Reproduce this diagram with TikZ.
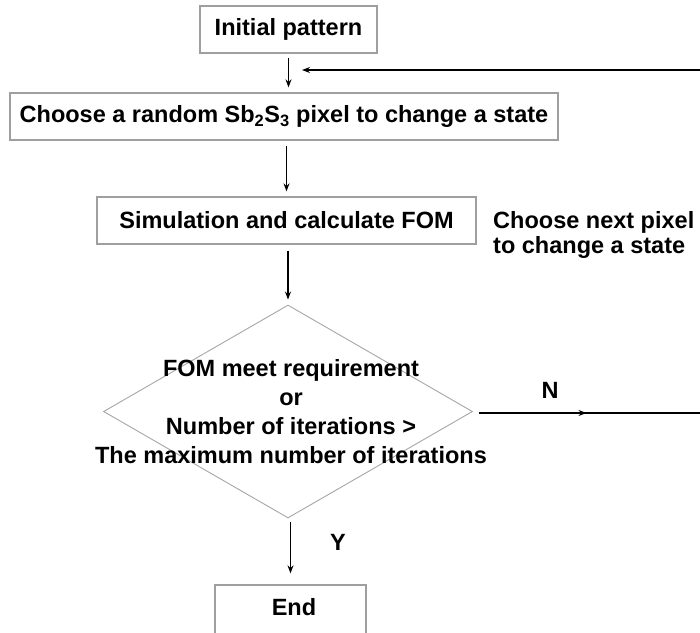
\documentclass[tikz,border=0pt]{standalone}
\usepackage{fontspec}
\setmainfont{Liberation Sans}
\usetikzlibrary{shapes.geometric,arrows.meta,decorations.markings}
\begin{document}
\begin{tikzpicture}[x=1pt,y=-1pt,
  txt/.style={font=\fontsize{23.5}{29}\selectfont\bfseries, text=black},
  box/.style={txt, draw=gray!75, line width=1.3pt, minimum height=47pt, inner sep=0pt},
  arr/.style={-{Stealth[length=8pt,width=6pt]}, line width=1.2pt},
  lbl/.style={txt, inner sep=0pt}]
\useasboundingbox (0,0) rectangle (700,632);
\clip (0,0) rectangle (700,632);
% boxes
\node[box, minimum width=177pt] (init) at (288.5,29.5) {Initial pattern};
\node[box, minimum width=548pt] (choose) at (284,116.5) {Choose a random Sb\textsubscript{2}S\textsubscript{3} pixel to change a state};
\node[box, minimum width=379pt] (sim) at (286.5,220.5) {Simulation and calculate FOM};
\node[draw=gray!70, line width=0.9pt, diamond, minimum width=369pt, minimum height=213pt, inner sep=0pt] (dec) at (288,411.5) {};
\node[lbl, align=center] (dectext) at (291,411.5) {FOM meet requirement\\or\\Number of iterations >\\The maximum number of iterations};
\node[box, minimum width=151pt, minimum height=50pt] (endb) at (290.5,610) {};
\node[lbl] (endt) at (294,607) {End};
% side texts
\node[lbl, align=left, anchor=west, font=\fontsize{23.5}{25}\selectfont\bfseries] (next) at (493,234.5) {Choose next pixel\\to change a state};
\node[lbl] (N) at (550,390) {N};
\node[lbl] (Y) at (338,542) {Y};
% coordinates for loop
\coordinate (loopR) at (700,70);
\coordinate (loopIn) at (302,70);
\coordinate (Nend) at (700,413);
% connectors
\draw[arr, shorten <=4pt, shorten >=5pt] (init.south) -- (init.south |- choose.north);
\draw[arr, shorten <=5pt, shorten >=5pt] (choose.south -| sim.north) -- (sim.north);
\draw[arr, shorten <=6pt, shorten >=5pt] (sim.south -| dec.north) -- (dec.north);
\draw[arr, shorten <=4pt, shorten >=11pt] (dec.south -| endb.north) -- (endb.north);
\draw[arr] (loopR) -- (loopIn);
\draw[line width=1.2pt, shorten <=6pt, postaction={decorate},
  decoration={markings, mark=at position 0.5 with {\arrow{Stealth[length=8pt,width=6pt]}}}]
  (dec.east |- Nend) -- (Nend);
\end{tikzpicture}
\end{document}
